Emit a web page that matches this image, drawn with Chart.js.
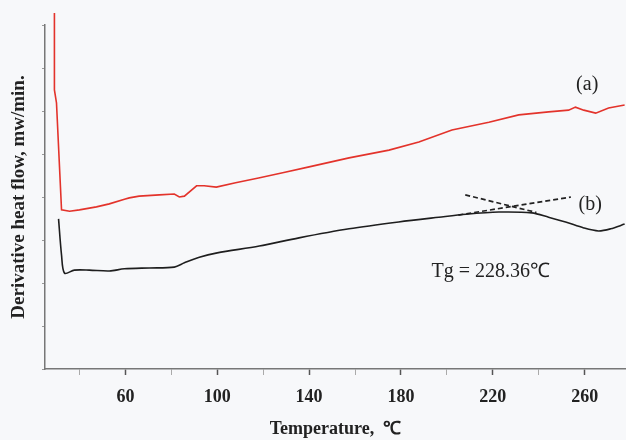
<!DOCTYPE html>
<html>
<head>
<meta charset="utf-8">
<script src="https://cdn.jsdelivr.net/npm/chart.js@4/dist/chart.umd.min.js"></script>
<style>
  html, body { margin: 0; padding: 0; background: #f7f8fa; }
  canvas { display: block; }
</style>
</head>
<body>
<canvas id="dscChart" width="626" height="440"></canvas>
<script>
// curve (a) - red
const redTemp = [29.1, 29.1, 30.0, 32.2, 35.7, 40.0, 47.4, 53.0, 59.6, 61.7, 66.0, 74.8, 81.3, 83.5, 85.7, 91.0, 94.3, 99.6,
  108.0, 118.0, 129.0, 140.0, 157.4, 174.8, 187.8, 202.2, 218.3, 231.3, 244.3, 253.0, 256.0, 259.6, 264.8, 270.4, 277.4];
const redFlow = [8.28, 6.49, 6.19, 3.70, 3.67, 3.70, 3.77, 3.84, 3.95, 3.98, 4.02, 4.05, 4.07, 4.00, 4.02, 4.26, 4.26, 4.23,
  4.33, 4.44, 4.57, 4.70, 4.91, 5.09, 5.28, 5.56, 5.74, 5.91, 5.98, 6.02, 6.09, 6.02, 5.95, 6.07, 6.14];

// curve (b) - black
const blackTemp = [30.9, 32.2, 33.5, 37.8, 44.3, 53.0, 59.6, 70.4, 81.3, 85.7, 92.2, 100.0, 118.3, 135.6, 157.4, 179.0,
  196.5, 208.3, 222.6, 237.0, 244.3, 251.7, 259.6, 266.0, 271.3, 277.4];
const blackFlow = [3.49, 2.65, 2.23, 2.30, 2.30, 2.28, 2.33, 2.35, 2.37, 2.47, 2.60, 2.70, 2.86, 3.05, 3.26, 3.42,
  3.53, 3.60, 3.65, 3.63, 3.53, 3.42, 3.28, 3.21, 3.26, 3.37];

// tangent lines used for Tg
const tangent1Temp = [208, 239];
const tangent1Flow = [4.05, 3.64];
const tangent2Temp = [205, 254];
const tangent2Flow = [3.58, 4.00];

const xTicks = [40, 60, 80, 100, 120, 140, 160, 180, 200, 220, 240, 260];
const majorTicks = [60, 100, 140, 180, 220, 260];

// text labels in data coordinates
const notes = [
  { text: '(a)', x: 261.1, y: 6.6, align: 'center' },
  { text: '(b)', x: 262.4, y: 3.81, align: 'center' },
  { text: 'Tg = 228.36\u2103', x: 193.3, y: 2.26, align: 'left' }
];

function toPoints(xs, ys) {
  return xs.map(function (x, i) { return { x: x, y: ys[i] }; });
}

const bgPlugin = {
  id: 'bg',
  beforeDraw: function (chart) {
    const ctx = chart.ctx;
    ctx.save();
    ctx.fillStyle = '#f7f8fa';
    ctx.fillRect(0, 0, chart.width, chart.height);
    ctx.restore();
  }
};

const notesPlugin = {
  id: 'notes',
  afterDatasetsDraw: function (chart) {
    const ctx = chart.ctx;
    const xs = chart.scales.x;
    const ys = chart.scales.y;
    ctx.save();
    ctx.font = '20px "Liberation Serif"';
    ctx.fillStyle = '#222';
    ctx.textBaseline = 'middle';
    notes.forEach(function (n) {
      ctx.textAlign = n.align;
      ctx.fillText(n.text, xs.getPixelForValue(n.x), ys.getPixelForValue(n.y));
    });
    ctx.restore();
  }
};

const serifBold = { family: '"Liberation Serif"', size: 18, weight: 'bold' };

new Chart(document.getElementById('dscChart').getContext('2d'), {
  type: 'line',
  data: {
    datasets: [
      {
        label: '(a)',
        data: toPoints(redTemp, redFlow),
        borderColor: '#e3332b',
        borderWidth: 1.6,
        pointRadius: 0,
        tension: 0,
        clip: false
      },
      {
        label: '(b)',
        data: toPoints(blackTemp, blackFlow),
        borderColor: '#1e1e1e',
        borderWidth: 1.6,
        pointRadius: 0,
        tension: 0.3
      },
      {
        label: 'tangent 1',
        data: toPoints(tangent1Temp, tangent1Flow),
        borderColor: '#222',
        borderWidth: 1.7,
        borderDash: [5, 3],
        pointRadius: 0
      },
      {
        label: 'tangent 2',
        data: toPoints(tangent2Temp, tangent2Flow),
        borderColor: '#222',
        borderWidth: 1.7,
        borderDash: [5, 3],
        pointRadius: 0
      }
    ]
  },
  options: {
    responsive: false,
    animation: false,
    layout: { padding: { top: 25, right: 0, left: 0, bottom: 0 } },
    plugins: {
      legend: { display: false },
      tooltip: { enabled: false }
    },
    scales: {
      x: {
        type: 'linear',
        min: 25,
        max: 278,
        afterBuildTicks: function (scale) {
          scale.ticks = xTicks.map(function (v) { return { value: v }; });
        },
        afterFit: function (scale) { scale.height = 71; },
        border: { color: '#777', width: 1.5 },
        grid: {
          drawOnChartArea: false,
          tickLength: 6,
          tickColor: function (c) { return majorTicks.includes(c.tick.value) ? '#555' : '#aaa'; },
          tickWidth: function (c) { return majorTicks.includes(c.tick.value) ? 1.5 : 1; }
        },
        ticks: {
          padding: 12,
          color: '#222',
          font: serifBold,
          maxRotation: 0,
          autoSkip: false,
          callback: function (v) { return majorTicks.includes(v) ? String(v) : ''; }
        },
        title: {
          display: true,
          text: 'Temperature,  \u2103',
          color: '#222',
          font: serifBold,
          padding: { top: 0, bottom: 0 }
        }
      },
      y: {
        min: 0,
        max: 8,
        afterFit: function (scale) { scale.width = 45; },
        border: { color: '#777', width: 1.5 },
        grid: { drawOnChartArea: false, tickLength: 3, tickColor: '#999' },
        ticks: {
          stepSize: 1,
          padding: 0,
          callback: function () { return ''; }
        },
        title: {
          display: true,
          text: 'Derivative heat flow, mw/min.',
          color: '#222',
          font: { family: '"Liberation Serif"', size: 19, weight: 'bold' },
          padding: { top: 8, bottom: 0 }
        }
      }
    }
  },
  plugins: [bgPlugin, notesPlugin]
});
</script>
</body>
</html>
